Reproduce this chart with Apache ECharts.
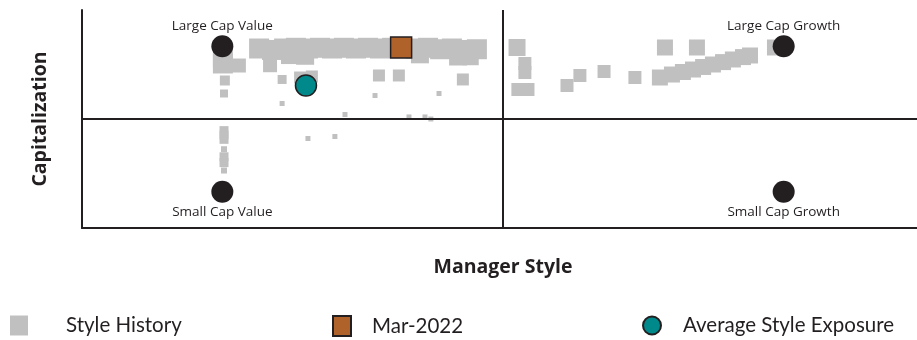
<!DOCTYPE html>
<html>
<head>
<meta charset="utf-8">
<script src="https://cdn.jsdelivr.net/npm/echarts@6/dist/echarts.min.js"></script>
<style>
  html, body { margin: 0; padding: 0; background: #fff; }
  #chart { width: 917px; height: 340px; }
</style>
</head>
<body>
<div id="chart"></div>
<script>
// style map: -100 = value / small, +100 = growth / large
const cornerNames = ['Large Cap Value', 'Large Cap Growth', 'Small Cap Value', 'Small Cap Growth']
const cornerPoints = [[-100, 100], [100, 100], [-100, -100], [100, -100]]

// [style, size, weight]
const styleHistory = [
  // large value band
  [-86.9, 97, 10], [-82.3, 95, 10], [-78.0, 97, 10], [-73.8, 98, 10], [-69.5, 97, 10],
  [-65.2, 98, 10], [-60.9, 97, 10], [-56.7, 98, 10], [-52.4, 97, 10], [-48.1, 98, 10],
  [-43.8, 97, 10], [-39.5, 98, 10], [-31.0, 97, 10], [-26.7, 98, 10], [-22.4, 96, 10],
  [-18.2, 97, 10], [-13.9, 95, 10], [-9.3, 96, 10],
  [-83.0, 74, 7], [-75.9, 88, 9], [-70.5, 87, 9], [-29.6, 89, 9], [-16.0, 86, 9], [-11.5, 85, 8],
  [-99.8, 84.6, 10], [-99.8, 76.4, 10], [-94.1, 73.6, 7],
  [-99.1, 53.0, 5], [-99.4, 35.1, 4], [-78.7, 54.4, 4.5],
  [-72.3, 57.1, 6], [-68.1, 58.5, 6],
  [-44.2, 59.9, 6], [-37.1, 59.9, 6], [-14.3, 54.4, 6],
  [-78.7, 21.3, 2.5], [-45.6, 32.3, 2.5], [-22.8, 35.1, 2.5], [-56.3, 6.2, 2.5],
  [-33.5, 2.8, 2.5], [-27.8, 2.8, 2.5], [-25.7, 0, 2.5], [-69.5, -26.8, 2.5], [-59.9, -24.1, 2.5],
  // small value drift
  [-99.4, -16, 4.5], [-99.4, -22, 4.5], [-99.4, -28, 4.5], [-99.4, -41.6, 3],
  [-99.4, -52, 4.5], [-99.4, -60, 4.5], [-99.4, -70.9, 3],
  // growth side
  [5.0, 98.4, 8.5], [7.8, 76.4, 6.5], [7.8, 64.0, 6.5], [5.3, 40.6, 6.5], [8.9, 40.6, 6.5],
  [22.8, 46.1, 6.5], [27.4, 59.9, 6.5], [36.0, 65.4, 6.5], [47.0, 57.1, 6.5],
  [57.7, 98.4, 8], [69.1, 98.4, 8], [96.9, 98.4, 8],
  [55.9, 57.1, 8], [60.2, 61.2, 8], [64.1, 64.7, 8], [67.7, 68.1, 8], [71.3, 71.6, 8],
  [74.8, 75.0, 8], [78.4, 78.3, 8], [81.9, 81.9, 8], [85.5, 85.2, 8], [88.0, 87.4, 8]
]
const currentPoint = [[-36.3, 98.4]]
const averagePoint = [[-70.2, 46.1]]

const ink = '#231f20'
const chart = echarts.init(document.getElementById('chart'))

const titleFont = { fontFamily: 'Open Sans', fontWeight: 'bold', fontSize: 19.5, color: ink }

chart.setOption({
  animation: false,
  grid: { left: 82, top: 10, width: 842, height: 218, outerBoundsMode: 'none', containLabel: false },
  xAxis: {
    type: 'value', min: -150, max: 150, interval: 150,
    name: 'Manager Style', nameLocation: 'middle', nameGap: 29,
    nameTextStyle: titleFont,
    axisLine: { onZero: false, lineStyle: { color: ink, width: 2 } },
    axisTick: { show: false }, axisLabel: { show: false }, splitLine: { show: false },
  },
  yAxis: {
    type: 'value', min: -150, max: 150, interval: 150,
    name: 'Capitalization', nameLocation: 'middle', nameGap: 32, nameRotate: 90,
    nameTextStyle: titleFont,
    axisLine: { onZero: false, lineStyle: { color: ink, width: 2 } },
    axisTick: { show: false }, axisLabel: { show: false }, splitLine: { show: false },
  },
  legend: [
    { data: ['Style History'], left: 10, gap: 33 },
    { data: ['Mar-2022'], left: 332, gap: 16 },
    { data: ['Average Style Exposure'], left: 642, gap: 17 },
  ].map((l) => ({
    data: l.data,
    left: l.left,
    top: 315,
    padding: 0,
    itemWidth: 18, itemHeight: 20,
    selectedMode: false,
    textStyle: { fontFamily: 'Lato', fontSize: 20.5, color: ink, padding: [0, 0, 0, l.gap] },
  })),
  series: [
    {
      name: 'Style History',
      type: 'scatter',
      symbol: 'rect',
      data: styleHistory,
      symbolSize: (v) => v[2] * 2,
      itemStyle: { color: '#c0c0c0', opacity: 1 },
      z: 2,
      markLine: {
        silent: true,
        symbol: 'none',
        label: { show: false },
        lineStyle: { color: ink, width: 2, type: 'solid', opacity: 1 },
        data: [{ xAxis: 0 }, { yAxis: 0 }],
      },
    },
    {
      name: 'Corners',
      type: 'scatter',
      symbol: 'circle',
      symbolSize: 22,
      data: cornerPoints.map((p, i) => ({
        value: p,
        name: cornerNames[i],
        label: { position: p[1] > 0 ? 'top' : 'bottom' },
      })),
      itemStyle: { color: ink, opacity: 1 },
      label: {
        show: true, formatter: '{b}', distance: 2,
        fontFamily: 'Open Sans', fontSize: 13.5, color: ink,
      },
      z: 3,
    },
    {
      name: 'Mar-2022',
      type: 'scatter',
      symbol: 'rect',
      symbolSize: 21,
      data: currentPoint,
      itemStyle: { color: '#b0622b', borderColor: ink, borderWidth: 1.5, opacity: 1 },
      z: 4,
    },
    {
      name: 'Average Style Exposure',
      type: 'scatter',
      symbol: 'circle',
      symbolSize: 21,
      data: averagePoint,
      itemStyle: { color: '#00898a', borderColor: ink, borderWidth: 1.5, opacity: 1 },
      z: 4,
    },
  ],
})
</script>
</body>
</html>
